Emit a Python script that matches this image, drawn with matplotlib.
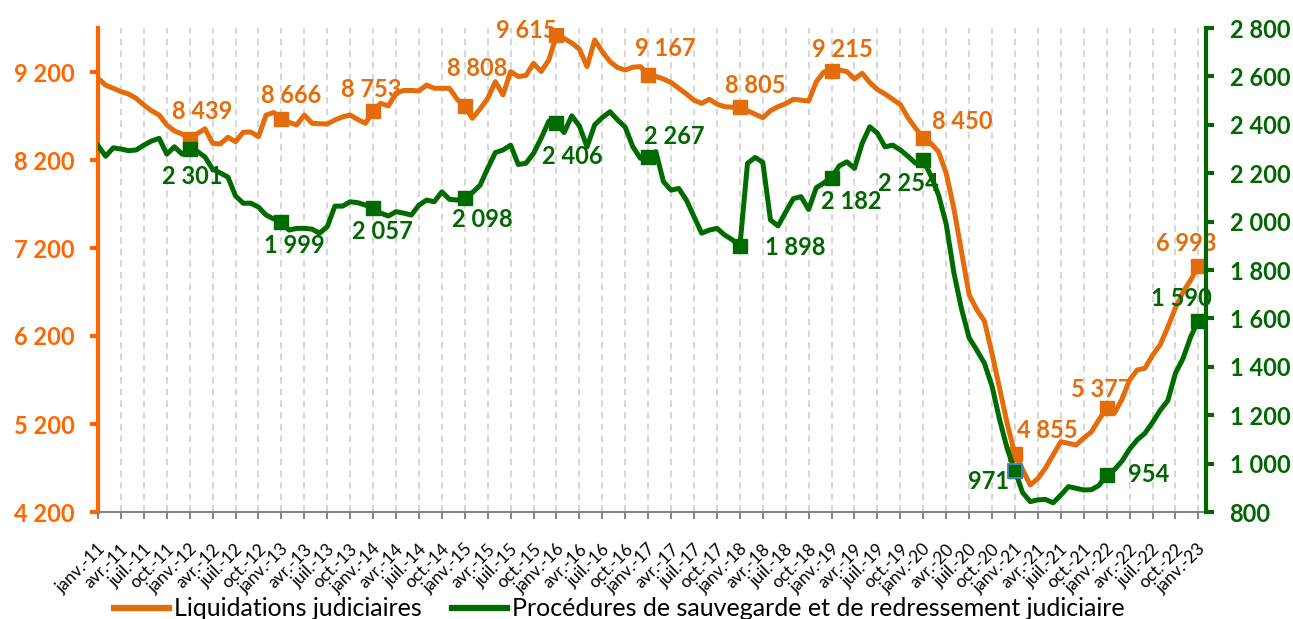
import matplotlib
matplotlib.use('Agg')
import matplotlib.pyplot as plt
from matplotlib.ticker import FuncFormatter, FixedLocator, MultipleLocator
from matplotlib.transforms import ScaledTranslation
import numpy as np

# ---------------- data (monthly, janv.-11 .. janv.-23) ----------------
liquidations = [
    9130, 9050, 9015, 8977, 8950, 8900, 8825, 8760, 8711, 8598, 8530, 8495,
    8439, 8500, 8555, 8390, 8382, 8458, 8408, 8515, 8518, 8465, 8711, 8740,
    8666, 8628, 8598, 8711, 8617, 8612, 8609, 8655, 8690, 8711, 8660, 8617,
    8753, 8844, 8814, 8960, 8990, 8990, 8985, 9052, 9015, 9015, 9015, 8890,
    8808, 8674, 8780, 8900, 9090, 8939, 9205, 9148, 9160, 9299, 9205, 9337,
    9615, 9580, 9530, 9460, 9261, 9564, 9431, 9318, 9250, 9223, 9255, 9261,
    9167, 9150, 9120, 9080, 9015, 8950, 8880, 8844, 8890, 8835, 8806, 8800,
    8805, 8760, 8720, 8680, 8760, 8806, 8840, 8890, 8880, 8870, 9090, 9200,
    9215, 9223, 9205, 9120, 9186, 9080, 9000, 8950, 8890, 8830, 8680, 8560,
    8450, 8390, 8294, 8050, 7650, 7160, 6670, 6500, 6370, 6000, 5600, 5200,
    4855, 4680, 4507, 4580, 4700, 4850, 4999, 4980, 4961, 5040, 5110, 5250,
    5377, 5322, 5480, 5700, 5814, 5833, 5980, 6100, 6300, 6520, 6700, 6836,
    6993,
]
sauvegarde = [
    2314, 2270, 2305, 2300, 2293, 2296, 2316, 2333, 2344, 2279, 2309, 2279,
    2301, 2290, 2267, 2217, 2201, 2184, 2106, 2076, 2076, 2060, 2027, 2011,
    1999, 1965, 1972, 1972, 1969, 1952, 1979, 2064, 2064, 2082, 2078, 2068,
    2057, 2035, 2023, 2041, 2035, 2027, 2068, 2089, 2082, 2123, 2092, 2089,
    2098, 2120, 2150, 2220, 2285, 2296, 2316, 2236, 2241, 2282, 2345, 2415,
    2406, 2368, 2437, 2395, 2309, 2400, 2430, 2454, 2420, 2390, 2309, 2261,
    2267, 2289, 2165, 2130, 2137, 2089, 2020, 1952, 1965, 1972, 1945, 1925,
    1898, 2241, 2265, 2245, 2007, 1982, 2040, 2095, 2103, 2050, 2140, 2160,
    2182, 2230, 2247, 2220, 2323, 2392, 2365, 2309, 2316, 2296, 2270, 2241,
    2254, 2190, 2110, 1990, 1790, 1640, 1520, 1469, 1415, 1320, 1180, 1060,
    971, 880, 843, 850, 852, 838, 870, 905, 898, 891, 892, 910,
    954, 975, 1010, 1060, 1098, 1125, 1170, 1220, 1260, 1373, 1435, 1524,
    1590,
]
tick_labels = [
    'janv.-11', 'avr.-11', 'juil.-11', 'oct.-11',
    'janv.-12', 'avr.-12', 'juil.-12', 'oct.-12',
    'janv.-13', 'avr.-13', 'juil.-13', 'oct.-13',
    'janv.-14', 'avr.-14', 'juil.-14', 'oct.-14',
    'janv.-15', 'avr.-15', 'juil.-15', 'oct.-15',
    'janv.-16', 'avr.-16', 'juil.-16', 'oct.-16',
    'janv.-17', 'avr.-17', 'juil.-17', 'oct.-17',
    'janv.-18', 'avr.-18', 'juil.-18', 'oct.-18',
    'janv.-19', 'avr.-19', 'juil.-19', 'oct.-19',
    'janv.-20', 'avr.-20', 'juil.-20', 'oct.-20',
    'janv.-21', 'avr.-21', 'juil.-21', 'oct.-21',
    'janv.-22', 'avr.-22', 'juil.-22', 'oct.-22',
    'janv.-23',
]
series_names = ['Liquidations judiciaires',
                'Procédures de sauvegarde et de redressement judiciaire']
marker_idx = list(range(12, 145, 12))

# label offsets (pixels) for the data labels at marker points
orange_offsets = [(12, 27), (10, 23), (-2, 22), (12, 38), (-30, 5), (17, 26),
                  (15, 21), (11, 21), (39, 17), (32, 24), (-5, 19), (-12, 23)]
green_offsets = [(3, -28), (13, -24), (9, -24), (18, -22), (16, -33), (26, 20),
                 (55, -1), (20, -24), (-15, -23), (-26, -11), (42, 0), (-17, 22)]

# ---------------- style ----------------
ORANGE_LINE = '#E46C0A'
ORANGE_AXIS = '#FF6600'
GREEN = '#006600'
GREEN_LINE = '#006B00'

plt.rcParams['font.family'] = ['Lato', 'DejaVu Sans']

W, H = 1293, 619
fig = plt.figure(figsize=(W / 100, H / 100), dpi=100)
ax = fig.add_axes([98 / W, 107 / H, 1108 / W, 484 / H])
ax2 = ax.twinx()

x = np.arange(len(liquidations))
fmt = lambda v: f"{int(round(v)):,}".replace(',', ' ')

l1, = ax.plot(x, liquidations, color=ORANGE_LINE, lw=3.6, marker='s', ms=10,
              markevery=marker_idx, solid_joinstyle='round', zorder=3)
l2, = ax2.plot(x, sauvegarde, color=GREEN_LINE, lw=3.6, marker='s', ms=10,
               markevery=marker_idx, solid_joinstyle='round', zorder=3)
# highlighted marker (blue outline) at janv.-21
ax2.plot([x[120]], [sauvegarde[120]], marker='s', ms=10, color=GREEN_LINE,
         markeredgecolor='#4F81BD', markeredgewidth=1.3, zorder=4)

ax.set_xlim(0, 145)
ax.set_ylim(4200, 9700)
ax2.set_ylim(800, 2800)

ax.xaxis.set_major_locator(FixedLocator(np.arange(0, 145, 3)))
ax.set_xticklabels(tick_labels, rotation=45, ha='right', va='center',
                   rotation_mode='anchor', fontsize=12.5)
ax.yaxis.set_major_locator(FixedLocator(np.arange(4200, 9201, 1000)))
ax2.yaxis.set_major_locator(MultipleLocator(200))
ax.yaxis.set_major_formatter(FuncFormatter(lambda v, p: fmt(v)))
ax2.yaxis.set_major_formatter(FuncFormatter(lambda v, p: fmt(v)))

ax.grid(axis='x', color='#D0D0D0', linestyle=(0, (4, 3)), linewidth=1.2)
ax.set_axisbelow(True)

for s in ['top', 'right']:
    ax.spines[s].set_visible(False)
for s in ['top', 'left', 'bottom']:
    ax2.spines[s].set_visible(False)
ax.spines['left'].set_color(ORANGE_AXIS)
ax.spines['left'].set_linewidth(3)
ax.spines['bottom'].set_color('#868686')
ax.spines['bottom'].set_linewidth(1.5)
ax2.spines['right'].set_color(GREEN)
ax2.spines['right'].set_linewidth(3)

ax.tick_params(axis='x', colors='#868686', length=5, width=1.5, labelcolor='black', pad=20)
ax.tick_params(axis='y', colors=ORANGE_AXIS, length=6, width=3, pad=11, labelsize=17)
ax2.tick_params(axis='y', colors=GREEN, length=6, width=3, pad=11, labelsize=17)
for lbl in ax.get_yticklabels() + ax2.get_yticklabels():
    lbl.set_fontweight('bold')

shift = ScaledTranslation(5 / 100, 0, fig.dpi_scale_trans)
for lbl in ax.get_xticklabels():
    lbl.set_transform(lbl.get_transform() + shift)

# data labels
for i, (dx, dy) in zip(marker_idx, orange_offsets):
    ax.annotate(fmt(liquidations[i]), (x[i], liquidations[i]), xytext=(dx, dy),
                textcoords='offset pixels', ha='center', va='center',
                color=ORANGE_LINE, fontsize=17, fontweight='bold', zorder=6)
for i, (dx, dy) in zip(marker_idx, green_offsets):
    ax2.annotate(fmt(sauvegarde[i]), (x[i], sauvegarde[i]), xytext=(dx, dy),
                 textcoords='offset pixels', ha='center', va='center',
                 color=GREEN, fontsize=17, fontweight='bold', zorder=6)

leg = fig.legend([l1, l2], series_names, loc='center', ncol=2, frameon=False,
                 bbox_to_anchor=(619 / W, 1 - 609 / H), fontsize=18,
                 handlelength=2.2, handletextpad=0.2, columnspacing=1.2)
for h in leg.legend_handles:
    h.set_marker('')
    h.set_linewidth(4.5)

fig.savefig('out.png', dpi=100)
